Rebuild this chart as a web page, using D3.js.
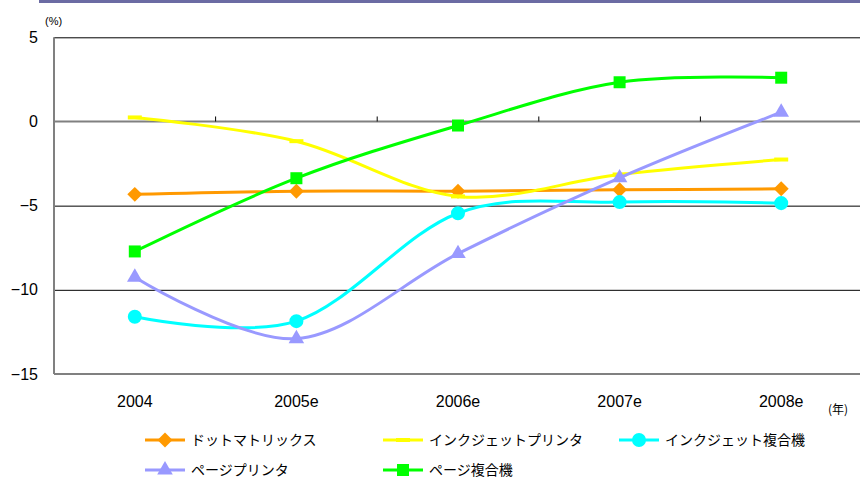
<!DOCTYPE html>
<html lang="ja">
<head>
<meta charset="UTF-8">
<title>chart</title>
<script src="https://d3js.org/d3.v7.min.js"></script>
<style>
  body { margin: 0; background: #fff; }
  text { font-family: "Liberation Sans", Arial, sans-serif; }
  .jp { font-family: "Noto Sans CJK JP", sans-serif; }
</style>
</head>
<body>
<div id="chart"></div>
<script>
const years = ["2004", "2005e", "2006e", "2007e", "2008e"]
const yTicks = [5, 0, -5, -10, -15]

const dotMatrix   = [-4.33, -4.14, -4.14, -4.06, -4.0]
const inkjetPrn   = [0.24, -1.17, -4.45, -3.15, -2.26]
const inkjetMfp   = [-11.6, -11.86, -5.45, -4.79, -4.85]
const pagePrn     = [-9.25, -12.9, -7.85, -3.35, 0.55]
const pageMfp     = [-7.72, -3.37, -0.24, 2.33, 2.6]

const seriesNames = ["ドットマトリックス", "インクジェットプリンタ", "インクジェット複合機", "ページプリンタ", "ページ複合機"]

const series = [
    {name: seriesNames[0], values: dotMatrix, color: "#ff9900", sym: "diamond"},
    {name: seriesNames[1], values: inkjetPrn, color: "#ffff00", sym: "dash"},
    {name: seriesNames[2], values: inkjetMfp, color: "#00ffff", sym: "circle"},
    {name: seriesNames[3], values: pagePrn,   color: "#9999ff", sym: "triangle"},
    {name: seriesNames[4], values: pageMfp,   color: "#00ff00", sym: "square"}
]

const width = 860
const height = 479
const mLeft = 54, mRight = 862, mTop = 37.3, mBottom = 374

const svg = d3.select("#chart").append("svg")
    .attr("width", width)
    .attr("height", height)

// top bar
svg.append("rect")
    .attr("x", 39).attr("y", 0)
    .attr("width", width - 39).attr("height", 3)
    .attr("fill", "#6b6ba3")

const x = d3.scaleBand().domain(years).range([mLeft, mRight])
const cx = d => x(d) + x.bandwidth() / 2
const y = d3.scaleLinear().domain([-15, 5]).range([mBottom, mTop])

// gridlines
svg.append("g")
    .attr("transform", "translate(" + mLeft + ",0)")
    .call(d3.axisLeft(y).tickValues([5, -5, -10]).tickSize(-(width - mLeft)).tickFormat(""))
    .call(g => g.select(".domain").remove())
    .call(g => g.selectAll("line").attr("stroke", "#000").attr("stroke-width", 1))

// zero line and bottom line (grey)
;[0, -15].forEach(v => {
    svg.append("line")
        .attr("x1", mLeft).attr("x2", width)
        .attr("y1", y(v)).attr("y2", y(v))
        .attr("stroke", "#808080").attr("stroke-width", 2)
})

// category separators on zero line
svg.append("g")
    .selectAll("line")
    .data(years.slice(1))
    .join("line")
    .attr("x1", d => x(d)).attr("x2", d => x(d))
    .attr("y1", y(0) - 5).attr("y2", y(0))
    .attr("stroke", "#000").attr("stroke-width", 1)

// y axis
svg.append("line")
    .attr("x1", mLeft).attr("x2", mLeft)
    .attr("y1", mTop).attr("y2", mBottom)
    .attr("stroke", "#808080").attr("stroke-width", 2)

svg.append("g")
    .attr("transform", "translate(" + mLeft + ",0)")
    .call(d3.axisLeft(y).tickValues(yTicks).tickSize(0).tickPadding(16))
    .call(g => g.select(".domain").remove())
    .call(g => g.selectAll("text").attr("font-size", 16).attr("fill", "#000")
        .attr("font-family", "Liberation Sans, Arial, sans-serif"))

svg.append("text")
    .attr("x", 45).attr("y", 25)
    .attr("font-size", 11)
    .text("(%)")

// x axis labels
svg.append("g")
    .attr("transform", "translate(0," + mBottom + ")")
    .call(d3.axisBottom(x).tickSize(0).tickPadding(22))
    .call(g => g.select(".domain").remove())
    .call(g => g.selectAll("text").attr("font-size", 16).attr("fill", "#000")
        .attr("font-family", "Liberation Sans, Arial, sans-serif"))

svg.append("text")
    .attr("class", "jp")
    .attr("x", 828).attr("y", 414)
    .attr("font-size", 12)
    .text("(年)")

function drawMarker(g, sym, color) {
    if (sym == "dash") {
        g.append("line")
            .attr("x1", -7).attr("x2", 7)
            .attr("stroke", color).attr("stroke-width", 4)
        return
    }
    const types = {diamond: d3.symbolSquare, circle: d3.symbolCircle, triangle: d3.symbolTriangle, square: d3.symbolSquare}
    const sizes = {diamond: 112, circle: 154, triangle: 105, square: 144}
    g.append("path")
        .attr("d", d3.symbol().type(types[sym]).size(sizes[sym])())
        .attr("transform", sym == "diamond" ? "rotate(45)" : null)
        .attr("fill", color)
}

const line = d3.line()
    .x((d, i) => cx(years[i]))
    .y(d => y(d))
    .curve(d3.curveCardinal.tension(0))

series.forEach(s => {
    svg.append("path")
        .attr("d", line(s.values))
        .attr("fill", "none")
        .attr("stroke", s.color)
        .attr("stroke-width", 3)
    s.values.forEach((v, i) => {
        const g = svg.append("g").attr("transform", "translate(" + cx(years[i]) + "," + y(v) + ")")
        drawMarker(g, s.sym, s.color)
    })
})

// legend
const legendPos = [[145, 440], [383, 440], [619, 440], [145, 470], [383, 470]]
series.forEach((s, i) => {
    const g = svg.append("g").attr("transform", "translate(" + legendPos[i][0] + "," + legendPos[i][1] + ")")
    g.append("line")
        .attr("x1", 0).attr("x2", 40)
        .attr("stroke", s.color).attr("stroke-width", 3)
    const m = g.append("g").attr("transform", "translate(20,0)")
    drawMarker(m, s.sym, s.color)
    g.append("text")
        .attr("class", "jp")
        .attr("x", 46).attr("y", 5)
        .attr("font-size", 14)
        .text(s.name)
})
</script>
</body>
</html>
